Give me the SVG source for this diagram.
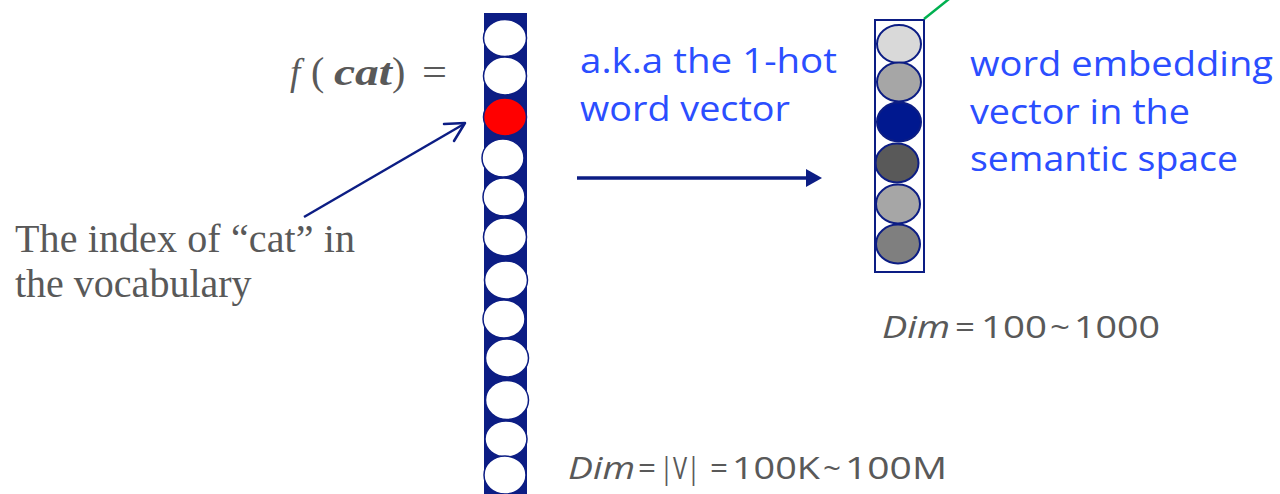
<svg xmlns="http://www.w3.org/2000/svg" width="1280" height="494" viewBox="0 0 1280 494">
<style>
.hot{fill:#ffffff;stroke:#0c1d84;stroke-width:1.5}
.emb{stroke:#0c1d84;stroke-width:2}
.gray{fill:#595959}
.blue{fill:#2b4eff;font-family:"Open Sans","Noto Sans",sans-serif;font-size:35px}
.serif{font-family:"Liberation Serif",serif}
.sans{font-family:"Open Sans","Noto Sans",sans-serif;font-size:31px}
.conn{stroke:#0c1d84;fill:none}
</style>
<rect width="1280" height="494" fill="#ffffff"/>

<g id="onehot-vector">
<rect x="484" y="13" width="43" height="490" fill="#0c1d84"/>
<ellipse class="hot" cx="505" cy="38" rx="21.5" ry="18.5"/>
<ellipse class="hot" cx="505" cy="76" rx="21.5" ry="19"/>
<ellipse cx="505" cy="117" rx="21.5" ry="19" fill="#ff0000" stroke="#0c1d84" stroke-width="1.5"/>
<ellipse class="hot" cx="503" cy="158" rx="21" ry="19"/>
<ellipse class="hot" cx="504" cy="197" rx="21" ry="19"/>
<ellipse class="hot" cx="505" cy="237" rx="21.5" ry="19"/>
<ellipse class="hot" cx="506" cy="280" rx="21.5" ry="19"/>
<ellipse class="hot" cx="504" cy="319" rx="21" ry="19"/>
<ellipse class="hot" cx="507" cy="358" rx="21.5" ry="19"/>
<ellipse class="hot" cx="507" cy="400" rx="21.5" ry="19.5"/>
<ellipse class="hot" cx="506" cy="439" rx="21" ry="18"/>
<ellipse class="hot" cx="505" cy="475" rx="21" ry="19"/>
</g>

<g id="embedding-vector">
<rect x="875" y="20" width="49" height="252" fill="#ffffff" stroke="#0c1d84" stroke-width="2"/>
<ellipse class="emb" cx="899" cy="44" rx="22" ry="19" fill="#d9d9d9"/>
<ellipse class="emb" cx="899" cy="82" rx="22" ry="19.5" fill="#a6a6a6"/>
<ellipse class="emb" cx="899" cy="122" rx="22" ry="19.5" fill="#00188f"/>
<ellipse class="emb" cx="897" cy="163" rx="21.5" ry="19.5" fill="#595959"/>
<ellipse class="emb" cx="898" cy="204" rx="22" ry="19.5" fill="#a6a6a6"/>
<ellipse class="emb" cx="898" cy="244" rx="22" ry="19.5" fill="#7f7f7f"/>
</g>

<g id="connectors">
<line class="conn" x1="304" y1="217" x2="464" y2="124" stroke-width="2.5"/>
<polyline class="conn" points="444,124 465,123 454,141" stroke-width="2.5" stroke-linecap="round" stroke-linejoin="round"/>
<line class="conn" x1="577" y1="178" x2="807" y2="178" stroke-width="3.5"/>
<path d="M806,169 L822,178 L806,187 Z" fill="#0c1d84"/>
<line x1="924" y1="19" x2="949" y2="-1" stroke="#00b050" stroke-width="2.5"/>
</g>

<g id="label-f-cat">
<text y="85" class="serif gray" font-size="37"><tspan x="290" font-style="italic">f</tspan><tspan x="311" font-size="40">(</tspan><tspan x="334" font-style="italic" font-weight="bold" textLength="58" lengthAdjust="spacingAndGlyphs">cat</tspan><tspan x="392" font-size="40">)</tspan><tspan x="422" textLength="25" lengthAdjust="spacingAndGlyphs">=</tspan></text>
</g>

<g id="label-index">
<text class="serif gray" font-size="40" x="15" y="252" textLength="340">The index of “cat” in</text>
<text class="serif gray" font-size="40" x="15" y="297">the vocabulary</text>
</g>

<g id="label-onehot">
<text class="blue" x="580" y="73" textLength="257" lengthAdjust="spacingAndGlyphs">a.k.a the 1-hot</text>
<text class="blue" x="580" y="121" textLength="210" lengthAdjust="spacingAndGlyphs">word vector</text>
</g>

<g id="label-embedding">
<text class="blue" x="970" y="76" textLength="303" lengthAdjust="spacingAndGlyphs">word embedding</text>
<text class="blue" x="970" y="124" textLength="220" lengthAdjust="spacingAndGlyphs">vector in the</text>
<text class="blue" x="970" y="171" textLength="268" lengthAdjust="spacingAndGlyphs">semantic space</text>
</g>

<g id="label-dim-emb">
<text class="sans gray" y="338"><tspan x="882" font-style="italic" textLength="68" lengthAdjust="spacingAndGlyphs">Dim</tspan><tspan x="955" textLength="20" lengthAdjust="spacingAndGlyphs">=</tspan><tspan x="981" textLength="66" lengthAdjust="spacingAndGlyphs">100</tspan><tspan x="1050" textLength="20" lengthAdjust="spacingAndGlyphs">~</tspan><tspan x="1074" textLength="86" lengthAdjust="spacingAndGlyphs">1000</tspan></text>
</g>

<g id="label-dim-vocab">
<text class="sans gray" y="479"><tspan x="568" font-style="italic" textLength="67" lengthAdjust="spacingAndGlyphs">Dim</tspan><tspan x="638" textLength="18" lengthAdjust="spacingAndGlyphs">=</tspan><tspan x="660" textLength="40" lengthAdjust="spacingAndGlyphs">|V|</tspan><tspan x="710" textLength="18" lengthAdjust="spacingAndGlyphs">=</tspan><tspan x="732" textLength="88" lengthAdjust="spacingAndGlyphs">100K</tspan><tspan x="823" textLength="18" lengthAdjust="spacingAndGlyphs">~</tspan><tspan x="845" textLength="102" lengthAdjust="spacingAndGlyphs">100M</tspan></text>
</g>
</svg>
